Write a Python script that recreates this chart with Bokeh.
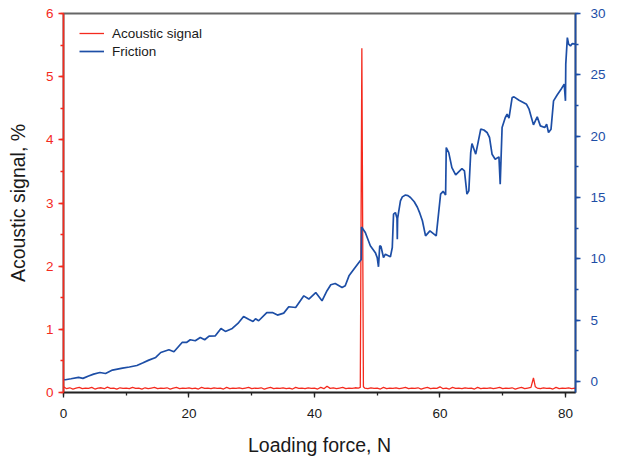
import math
from bokeh.plotting import figure
from bokeh.models import Range1d, LinearAxis, SingleIntervalTicker, Legend, LegendItem, Label
from bokeh.embed import file_html
from bokeh.resources import INLINE

# ---- data ----
ac_x = [0, 0.5, 1, 1.5, 2, 2.5, 3, 3.5, 4, 4.5, 5, 5.5, 6, 6.5, 7, 7.5, 8, 8.5, 9, 9.5,
        10, 10.5, 11, 11.5, 12, 12.5, 13, 13.5, 14, 14.5, 15, 15.5, 16, 16.5, 17, 17.5,
        18, 18.5, 19, 19.5, 20, 20.5, 21, 21.5, 22, 22.5, 23, 23.5, 24, 24.5, 25, 25.5,
        26, 26.5, 27, 27.5, 28, 28.5, 29, 29.5, 30, 30.5, 31, 31.5, 32, 32.5, 33, 33.5,
        34, 34.5, 35, 35.5, 36, 36.5, 37, 37.5, 38, 38.5, 39, 39.5, 40, 40.5, 41, 41.5,
        42, 42.5, 43, 43.5, 44, 44.5, 45, 45.5, 46, 46.5, 47,
        47.3, 47.55, 47.8,
        48, 48.5, 49, 49.5, 50, 50.5, 51, 51.5, 52, 52.5, 53, 53.5, 54, 54.5, 55, 55.5,
        56, 56.5, 57, 57.5, 58, 58.5, 59, 59.5, 60, 60.5, 61, 61.5, 62, 62.5, 63, 63.5,
        64, 64.5, 65, 65.5, 66, 66.5, 67, 67.5, 68, 68.5, 69, 69.5, 70, 70.5, 71, 71.5,
        72, 72.5, 73, 73.5, 74, 74.5,
        74.9, 75.2,
        75.5, 76, 76.5, 77, 77.5, 78, 78.5, 79, 79.5, 80, 80.5, 81, 81.5, 81.6]
ac_y = [0.09, 0.06, 0.075, 0.055, 0.07, 0.08, 0.06, 0.07, 0.065, 0.08,
        0.055, 0.07, 0.075, 0.06, 0.085, 0.065, 0.07, 0.055, 0.075, 0.065,
        0.07, 0.06, 0.08, 0.065, 0.07, 0.055, 0.075, 0.06, 0.07, 0.08,
        0.06, 0.07, 0.065, 0.075, 0.055, 0.07, 0.08, 0.06, 0.07, 0.065,
        0.075, 0.06, 0.07, 0.055, 0.08, 0.065, 0.07, 0.06, 0.075, 0.065,
        0.07, 0.055, 0.08, 0.06, 0.07, 0.065, 0.075, 0.06, 0.07, 0.08,
        0.06, 0.07, 0.065, 0.075, 0.055, 0.07, 0.08, 0.06, 0.07, 0.065,
        0.075, 0.06, 0.07, 0.055, 0.08, 0.065, 0.07, 0.06, 0.075, 0.065,
        0.07, 0.055, 0.08, 0.06, 0.1, 0.065, 0.075, 0.06, 0.07, 0.08,
        0.06, 0.07, 0.065, 0.075, 0.07,
        0.08, 5.45, 0.09,
        0.07, 0.06, 0.075, 0.065, 0.07, 0.055, 0.08, 0.06, 0.07, 0.065,
        0.075, 0.06, 0.07, 0.08, 0.06, 0.07, 0.065, 0.075, 0.055, 0.07,
        0.08, 0.06, 0.07, 0.065, 0.09, 0.06, 0.07, 0.055, 0.08, 0.065,
        0.07, 0.06, 0.075, 0.065, 0.07, 0.055, 0.08, 0.06, 0.07, 0.065,
        0.075, 0.06, 0.07, 0.08, 0.06, 0.07, 0.065, 0.075, 0.055, 0.07,
        0.08, 0.06, 0.07, 0.08,
        0.23, 0.09,
        0.07, 0.06, 0.075, 0.065, 0.07, 0.055, 0.08, 0.06, 0.07, 0.065, 0.075, 0.06, 0.07,
        0.065]

fr_x = [0.0, 0.3, 1.2, 2.4, 3.1, 4.0, 4.8, 5.8, 6.7, 7.8, 9.4, 10.5, 11.7, 12.6, 13.6, 14.7,
        15.5, 16.8, 17.6, 18.9, 19.6, 20.2, 21.0, 21.8, 22.5, 23.2, 24.2, 25.1, 25.8, 26.9,
        27.8, 28.7, 29.5, 30.2, 30.6, 31.1, 32.4, 33.3, 34.1, 35.1, 35.9, 37.0, 38.3, 39.1,
        40.2, 41.2, 42.0, 42.6, 43.3, 44.4, 44.9, 45.5, 46.3, 47.2, 47.45, 47.5, 48.1, 48.9,
        49.7, 50.0, 50.2, 50.4, 50.6, 51.0, 51.3, 52.1, 52.4, 52.6, 52.9, 53.15, 53.2, 53.25,
        53.7, 54.0, 54.5, 54.9, 55.3, 55.9, 56.4, 56.8, 57.2, 57.7, 58.4, 59.4, 60.1, 60.5,
        60.9, 61.0, 61.4, 61.9, 62.5, 63.5, 63.9, 64.3, 64.6, 64.9, 65.1, 65.7, 66.5, 67.0,
        67.5, 67.9, 68.3, 68.8, 69.4, 69.6, 69.9, 70.4, 70.7, 71.0, 71.5, 71.8, 72.6, 73.8,
        74.2, 74.9, 75.5, 76.0, 76.7, 77.0, 77.3, 77.7, 78.1, 78.7, 79.3, 79.8, 80.0, 80.05,
        80.3, 80.5, 80.8, 81.1, 81.6]
fr_y = [0.15, 0.14, 0.22, 0.33, 0.25, 0.45, 0.6, 0.73, 0.65, 0.93, 1.09, 1.18, 1.3, 1.5, 1.74,
        1.96, 2.36, 2.58, 2.42, 3.18, 3.18, 3.4, 3.32, 3.59, 3.4, 3.7, 3.72, 4.32, 4.08, 4.32,
        4.73, 5.3, 5.08, 4.89, 5.11, 4.95, 5.62, 5.62, 5.41, 5.57, 6.09, 6.03, 6.98, 6.72,
        7.25, 6.58, 7.4, 7.88, 7.99, 7.66, 7.8, 8.61, 9.16, 9.78, 9.95, 12.6, 12.14, 11.06,
        10.5, 10.1, 9.35, 11.06, 11.0, 10.1, 10.38, 10.16, 10.92, 13.64, 13.77, 13.3, 11.6,
        13.3, 14.73, 15.05, 15.2, 15.15, 15.0, 14.65, 14.2, 13.7, 13.1, 11.87, 12.28, 11.87,
        15.27, 15.5, 15.2, 19.07, 18.66, 17.44, 16.85, 17.36, 17.17, 15.27, 15.54, 18.66,
        19.4, 18.53, 20.57, 20.5, 20.3, 19.89, 18.53, 18.12, 18.31, 16.09, 20.7, 21.5, 21.8,
        21.47, 23.15, 23.2, 22.93, 22.6, 22.2, 20.92, 21.57, 20.84, 20.7, 20.98, 20.3, 20.57,
        22.88, 23.37, 23.83, 24.24, 22.88, 25.87, 28.04, 27.5, 27.36, 27.55, 27.5]

x_label = "Loading force, N"
y_label = "Acoustic signal, %"
y2_label = "Friction, N"
series_names = ["Acoustic signal", "Friction"]

# ---- style ----
RED = "#f42a1e"
BLUE = "#1d4ea6"
DARK = "#1a1a1a"
FONT = "Liberation Sans"

p = figure(width=636, height=460, output_backend="svg", toolbar_location=None,
           x_range=Range1d(0, 81.6), y_range=Range1d(0, 6),
           min_border_left=63, min_border_right=61, min_border_top=13, min_border_bottom=68)
p.extra_y_ranges = {"fric": Range1d(-0.9, 30)}
p.grid.visible = False
p.outline_line_color = "#666666"
p.outline_line_width = 2

r1 = p.line(ac_x, ac_y, color=RED, line_width=1.3)
r2 = p.line(fr_x, fr_y, color=BLUE, line_width=1.7, y_range_name="fric")

right = LinearAxis(y_range_name="fric")
p.add_layout(right, "right")


def style(ax, color, label_color):
    ax.axis_line_color = color
    ax.axis_line_width = 1.6
    ax.major_tick_line_color = color
    ax.minor_tick_line_color = color
    ax.major_tick_line_width = 1.3
    ax.minor_tick_line_width = 1.3
    ax.major_tick_out = 5
    ax.major_tick_in = 0
    ax.minor_tick_out = 3
    ax.minor_tick_in = 0
    ax.major_label_text_color = label_color
    ax.major_label_text_font = FONT
    ax.major_label_text_font_size = "13.5px"
    ax.axis_label_text_font = FONT
    ax.axis_label_text_font_size = "19.5px"
    ax.axis_label_text_font_style = "normal"
    ax.axis_label_text_color = DARK


left = p.left[0]
bottom = p.below[0]
left.ticker = SingleIntervalTicker(interval=1, num_minor_ticks=2)
right.ticker = SingleIntervalTicker(interval=5, num_minor_ticks=2)
bottom.ticker = SingleIntervalTicker(interval=20, num_minor_ticks=2)
style(left, RED, RED)
style(right, BLUE, BLUE)
style(bottom, "#222222", DARK)
left.axis_label = y_label
left.axis_label_standoff = 14
left.major_label_standoff = 5
bottom.axis_label = x_label
bottom.axis_label_standoff = 13
bottom.major_label_standoff = 11
right.major_label_standoff = 10

lab = Label(x=560, y=189.5, x_units="screen", y_units="screen", text=y2_label,
            angle=math.pi / 2, text_align="center", text_baseline="middle",
            text_font=FONT, text_font_size="19.5px", text_color=DARK)
p.add_layout(lab)

legend = Legend(items=[LegendItem(label=series_names[0], renderers=[r1]),
                       LegendItem(label=series_names[1], renderers=[r2])],
                location=(16, 332), border_line_color=None, background_fill_alpha=0,
                label_text_font=FONT, label_text_font_size="13.5px", label_text_color=DARK,
                glyph_width=25, glyph_height=18, label_height=18, spacing=0,
                padding=0, margin=0, label_standoff=8)
p.add_layout(legend)

open("out.html", "w").write(file_html(p, INLINE))
